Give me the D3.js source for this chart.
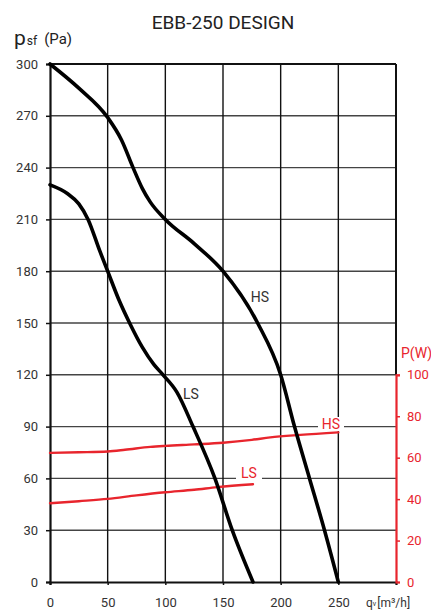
<!DOCTYPE html>
<html>
<head>
<meta charset="utf-8">
<script src="https://cdn.jsdelivr.net/npm/d3@7"></script>
<style>
  body { margin: 0; background: #fff; }
  text { font-family: Roboto, "DejaVu Sans", sans-serif; }
</style>
</head>
<body>
<svg id="chart"></svg>
<script>
const WIDTH = 431;
const HEIGHT = 610;

// pressure curves, q [m3/h] vs p [Pa]
const hsQ = [0, 25, 50, 62, 72, 80, 87, 100, 125, 150, 180, 200, 212, 225, 238, 250];
const hsP = [300, 286, 269, 256, 240, 228, 220, 210, 196, 180, 150, 120, 90, 60, 30, 0];
const lsQ = [0, 15, 25, 33, 43, 50, 60, 69, 80, 90, 98, 110, 124, 143, 158, 176];
const lsP = [230, 225, 219, 210, 192, 180, 163, 150, 136, 126, 120, 110, 90, 60, 30, 0];

// power curves, q vs P [W]
const hsPowQ = [0, 25, 50, 65, 87, 100, 125, 150, 175, 191, 217, 250];
const hsPowW = [62.3, 62.6, 63, 63.8, 65.2, 65.7, 66.4, 67.2, 68.6, 69.8, 71, 72.2];
const lsPowQ = [0, 25, 50, 75, 100, 125, 145, 176];
const lsPowW = [38, 39, 40.1, 41.8, 43.3, 44.5, 45.8, 47.2];

const qTicks = [0, 50, 100, 150, 200, 250];
const pTicks = [0, 30, 60, 90, 120, 150, 180, 210, 240, 270, 300];
const wTicks = [0, 20, 40, 60, 80, 100];

const RED = "#e8252d";
const INK = "#333";

const m = { left: 50, right: 396, top: 64, bottom: 582 };

const x = d3.scaleLinear().domain([0, 300]).range([m.left, m.right]);
const y = d3.scaleLinear().domain([0, 300]).range([m.bottom, m.top]);
const yW = d3.scaleLinear().domain([0, 100]).range([m.bottom, y(120)]);

const svg = d3.select("#chart").attr("width", WIDTH).attr("height", HEIGHT);

// grid
svg.append("g")
  .selectAll("line")
  .data(pTicks.slice(1))
  .join("line")
  .attr("x1", m.left).attr("x2", m.right)
  .attr("y1", d => y(d)).attr("y2", d => y(d))
  .attr("stroke", d => (d === 300 ? "#111" : "#444"))
  .attr("stroke-width", d => (d === 300 ? 2 : 1.4));

svg.append("g")
  .selectAll("line")
  .data([50, 100, 150, 200, 250, 300])
  .join("line")
  .attr("x1", d => x(d)).attr("x2", d => x(d))
  .attr("y1", m.top).attr("y2", d => (d === 300 ? y(120) : m.bottom))
  .attr("stroke", "#111")
  .attr("stroke-width", d => (d === 300 ? 2 : 1.4));

// left axis
const yAxis = svg.append("g")
  .attr("transform", `translate(${m.left},0)`)
  .call(d3.axisLeft(y).tickValues(pTicks).tickSize(4).tickPadding(8));
yAxis.select(".domain").attr("stroke", "#111").attr("stroke-width", 2.2);
yAxis.selectAll(".tick line").attr("stroke", "#111").attr("stroke-width", 1.5);
yAxis.selectAll("text").attr("fill", INK).attr("font-size", 13);

// bottom axis
const xAxis = svg.append("g")
  .attr("transform", `translate(0,${m.bottom})`)
  .call(d3.axisBottom(x).tickValues(qTicks).tickSize(3).tickPadding(13));
xAxis.select(".domain").attr("stroke", "#111").attr("stroke-width", 2.2);
xAxis.selectAll(".tick line").attr("stroke", "#111").attr("stroke-width", 1.5);
xAxis.selectAll("text").attr("fill", INK).attr("font-size", 13);

// right (power) axis
const wAxis = svg.append("g")
  .attr("transform", `translate(${m.right},0)`)
  .call(d3.axisRight(yW).tickValues(wTicks).tickSize(4).tickPadding(7));
wAxis.select(".domain").attr("stroke", RED).attr("stroke-width", 2.2);
wAxis.selectAll(".tick line").attr("stroke", RED).attr("stroke-width", 1.5);
wAxis.selectAll("text").attr("fill", RED).attr("font-size", 13);

// curves
const line = d3.line().curve(d3.curveMonotoneX);

const drawCurve = (qs, vs, scale, color, width) => {
  svg.append("path")
    .attr("d", line(qs.map((q, i) => [x(q), scale(vs[i])])))
    .attr("fill", "none")
    .attr("stroke", color)
    .attr("stroke-width", width)
    .attr("stroke-linecap", "round");
};

drawCurve(hsPowQ, hsPowW, yW, RED, 2.4);
drawCurve(lsPowQ, lsPowW, yW, RED, 2.4);
drawCurve(hsQ, hsP, y, "#000", 3.6);
drawCurve(lsQ, lsP, y, "#000", 3.6);

// curve labels
const label = (tx, ty, txt, color, boxed) => {
  const g = svg.append("g");
  if (boxed) {
    g.append("rect")
      .attr("x", tx - 13).attr("y", ty - 12)
      .attr("width", 26).attr("height", 14)
      .attr("fill", "#fff");
  }
  g.append("text")
    .attr("x", tx).attr("y", ty)
    .attr("text-anchor", "middle")
    .attr("font-size", 14)
    .attr("fill", color)
    .text(txt);
};
label(260, 302, "HS", INK, false);
label(191, 399, "LS", INK, false);
label(331, 429, "HS", RED, true);
label(249, 478, "LS", RED, true);

// title
svg.append("text")
  .attr("x", 223).attr("y", 29)
  .attr("text-anchor", "middle")
  .attr("font-size", 19)
  .attr("fill", "#222")
  .text("EBB-250 DESIGN");

// y title
const yt = svg.append("text").attr("x", 14).attr("y", 45).attr("fill", "#222");
yt.append("tspan").attr("font-size", 21).text("p");
yt.append("tspan").attr("font-size", 12).attr("dx", 1).text("sf");
yt.append("tspan").attr("font-size", 15).attr("dx", 7).attr("dy", -1).text("(Pa)");

// right axis title
svg.append("text")
  .attr("x", 401).attr("y", 358)
  .attr("font-size", 14)
  .attr("fill", RED)
  .text("P(W)");

// x title
const xt = svg.append("text").attr("x", 366).attr("y", 607).attr("fill", INK);
xt.append("tspan").attr("font-size", 12).text("q");
xt.append("tspan").attr("font-size", 7).attr("dy", -1).text("v");
xt.append("tspan").attr("font-size", 12).attr("dx", 1).attr("dy", 1).text("[m³/h]");
</script>
</body>
</html>
